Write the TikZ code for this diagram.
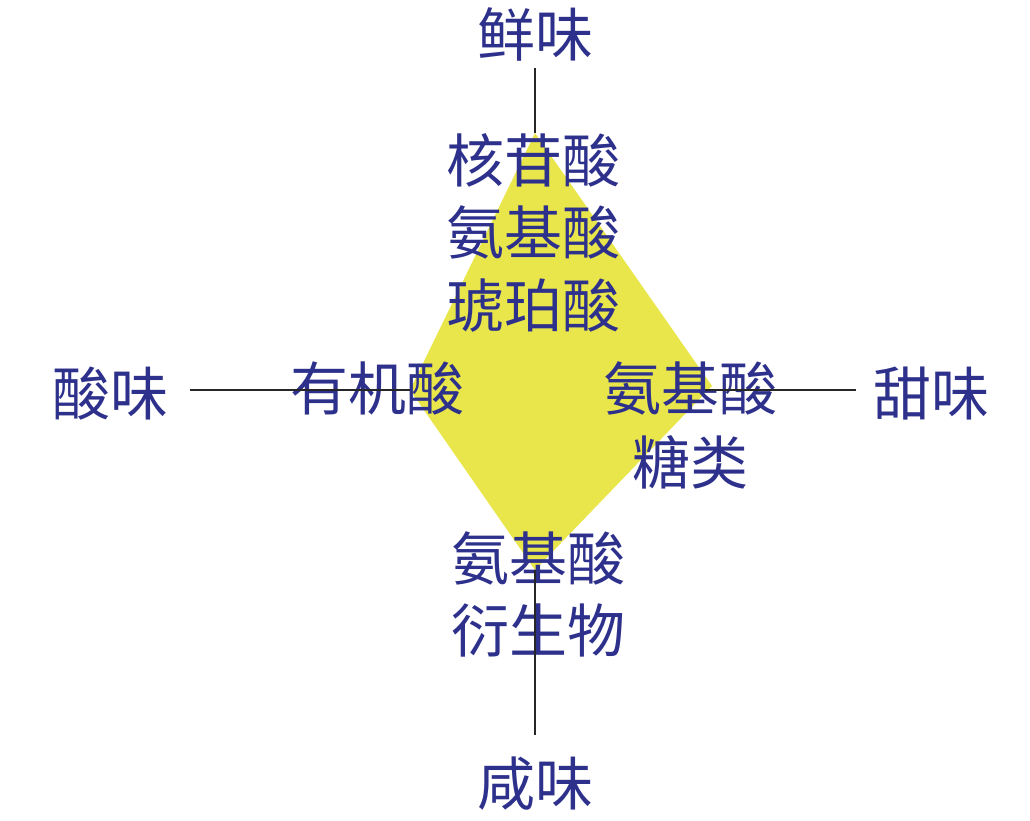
\documentclass[tikz,border=0pt]{standalone}
\usepackage{fontspec}
\newfontfamily\cjk{Noto Sans CJK SC}
\definecolor{txtblue}{RGB}{46,49,140}
\definecolor{diayellow}{RGB}{232,230,74}
\begin{document}
\begin{tikzpicture}[x=1pt,y=-1pt,
  lbl/.style={font=\cjk\fontsize{58}{70}\selectfont, text=txtblue, inner sep=0pt, text height=50pt, text depth=7pt, anchor=center},
  axis/.style={draw=black!85, line width=2.5pt}]
\useasboundingbox (0,0) rectangle (1030,820);
% diamond
\coordinate (T) at (535,133);
\coordinate (R) at (712,386);
\coordinate (B) at (535,570);
\coordinate (L) at (410,390);
\fill[diayellow] (T) -- (R) -- (B) -- (L) -- cycle;
% axis end points
\coordinate (Tend) at (535,68);
\coordinate (Bend) at (535,735);
\coordinate (Lend) at (190,390);
\coordinate (Rend) at (856,390);
\coordinate (Lin) at (410,390);
\coordinate (Rin) at (705,390);
% labels
\node[lbl] (xian) at (535,35) {鲜味};
\node[lbl] (he) at (533,161) {核苷酸};
\node[lbl] (an1) at (533,233) {氨基酸};
\node[lbl] (hu) at (533,306) {琥珀酸};
\node[lbl] (you) at (377,389) {有机酸};
\node[lbl] (an2) at (690,389) {氨基酸};
\node[lbl] (tang) at (690,463) {糖类};
\node[lbl] (an3) at (538,559) {氨基酸};
\node[lbl] (yan) at (538,631) {衍生物};
\node[lbl] (suan) at (110,394) {酸味};
\node[lbl] (tian) at (931,394) {甜味};
\node[lbl] (xian2) at (535,784) {咸味};
% axes
\draw[axis] (Tend) -- (T);
\draw[axis] (B) -- (Bend);
\draw[axis] (Lend) -- (Lin);
\draw[axis] (Rin) -- (Rend);
\end{tikzpicture}
\end{document}
